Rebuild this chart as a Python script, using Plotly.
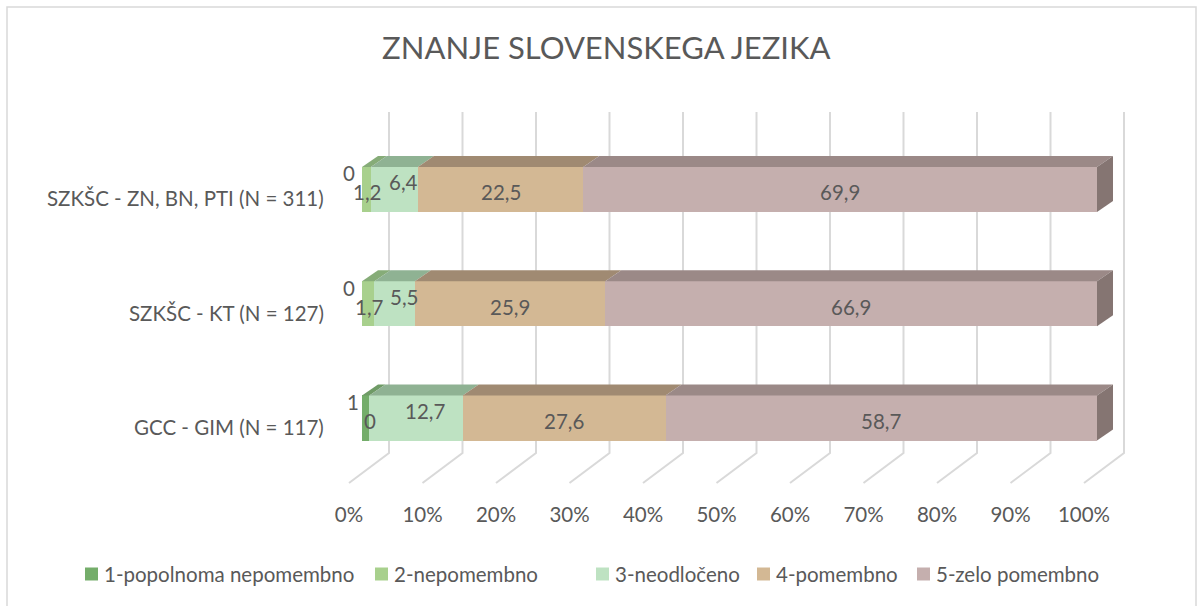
import plotly.graph_objects as go

categories = ["GCC - GIM (N = 117)", "SZKŠC - KT (N = 127)", "SZKŠC - ZN, BN, PTI (N = 311)"]
series_names = ["1-popolnoma nepomembno", "2-nepomembno", "3-neodločeno", "4-pomembno", "5-zelo pomembno"]
s1 = [1, 0, 0]
s2 = [0, 1.7, 1.2]
s3 = [12.7, 5.5, 6.4]
s4 = [27.6, 25.9, 22.5]
s5 = [58.7, 66.9, 69.9]
pct_ticks = [0, 10, 20, 30, 40, 50, 60, 70, 80, 90, 100]
tick_text = ["0%", "10%", "20%", "30%", "40%", "50%", "60%", "70%", "80%", "90%", "100%"]

series = [s1, s2, s3, s4, s5]
front_col = ["#74ad6a", "#a8d08d", "#bee2c2", "#d3b894", "#c5afae"]
top_col = ["#6f9b66", "#86ac78", "#8fb293", "#a08a72", "#9b8987"]
side_col = "#857572"
txt = "#595959"
font = "Lato, Calibri, sans-serif"

# plot area in pixels
W, H = 1203, 606
L, T, PW, PH = 340, 100, 790, 390


def pxx(px):
    return (px - L) / PW


def pxy(py):
    return (T + PH - py) / PH


# pseudo-3D geometry
px_x = 7.35      # px per percent
px_y = 114.3     # px per category step
x_lo = -22 / px_x
x_hi = x_lo + PW / px_x
y_lo = -(T + PH - 418) / px_y
y_hi = y_lo + PH / px_y
half = 0.197
dx, dy = 16 / px_x, 11 / px_y              # bar depth
back_dx, back_dy = 27 / px_x, -35 / px_y   # back wall
front_dx, front_dy = -13 / px_x, -65 / px_y
wall_top = 2 + (189.5 - 112) / px_y

fig = go.Figure()
yc = list(range(len(categories)))

shapes = []
for t in pct_ticks:
    bx = t + back_dx
    fx = t + front_dx
    shapes.append(dict(type="path", xref="x", yref="y", layer="below",
                       path=f"M {bx},{wall_top} L {bx},{back_dy} L {fx},{front_dy}",
                       line=dict(color="#d9d9d9", width=2)))
shapes.append(dict(type="rect", xref="paper", yref="paper",
                   x0=pxx(7), x1=pxx(1196), y0=pxy(640), y1=pxy(7),
                   line=dict(color="#d9d9d9", width=1.5)))

for i, (name, vals) in enumerate(zip(series_names, series)):
    fig.add_trace(go.Bar(y=yc, x=vals, orientation="h", name=name, width=2 * half,
                         marker=dict(color=front_col[i], line=dict(width=0)),
                         showlegend=False))

annotations = []
lab_shift = [(-13, 16), (1, -3), (9, 7), (0, -3), (0, -3)]
for j, c in enumerate(yc):
    base = 0
    for i, vals in enumerate(series):
        v = vals[j]
        a, b = base, base + v
        if v > 0:
            yt = c + half
            fig.add_trace(go.Scatter(x=[a, b, b + dx, a + dx, a], y=[yt, yt, yt + dy, yt + dy, yt],
                                     fill="toself", fillcolor=top_col[i], mode="lines",
                                     line=dict(width=0), showlegend=False, hoverinfo="skip"))
        label = (f"{v:g}").replace(".", ",")
        annotations.append(dict(x=(a + b) / 2, y=c, xref="x", yref="y", text=label, showarrow=False,
                                xshift=lab_shift[i][0], yshift=lab_shift[i][1],
                                font=dict(family=font, size=20.5, color=txt)))
        base = b
    fig.add_trace(go.Scatter(x=[base, base + dx, base + dx, base, base],
                             y=[c - half, c - half + dy, c + half + dy, c + half, c - half],
                             fill="toself", fillcolor=side_col, mode="lines",
                             line=dict(width=0), showlegend=False, hoverinfo="skip"))
    annotations.append(dict(x=0, y=c, xref="paper", yref="y", text=categories[j], showarrow=False,
                            xanchor="right", xshift=-14, yshift=-9,
                            font=dict(family=font, size=20.5, color=txt)))

# legend drawn by hand (Excel-style spacing)
leg_left = [85, 375, 596, 757, 917]
for i, name in enumerate(series_names):
    x0 = leg_left[i]
    shapes.append(dict(type="rect", xref="paper", yref="paper",
                       x0=pxx(x0), x1=pxx(x0 + 13), y0=pxy(580.5), y1=pxy(567.5),
                       fillcolor=front_col[i], line=dict(width=0)))
    annotations.append(dict(x=pxx(x0 + 17), y=pxy(574), xref="paper", yref="paper", text=name,
                            showarrow=False, xanchor="left", yanchor="middle",
                            font=dict(family=font, size=20.5, color=txt)))

fig.update_layout(
    width=W, height=H,
    margin=dict(l=L, r=W - L - PW, t=T, b=H - T - PH, autoexpand=False),
    paper_bgcolor="white", plot_bgcolor="white",
    barmode="stack", showlegend=False,
    title=dict(text="ZNANJE SLOVENSKEGA JEZIKA", x=0.504, xanchor="center", y=1 - 48 / H, yanchor="middle",
               font=dict(family=font, size=31, color=txt)),
    xaxis=dict(range=[x_lo, x_hi], showgrid=False, zeroline=False, showline=False,
               tickvals=[t + front_dx for t in pct_ticks], ticktext=tick_text,
               tickfont=dict(family=font, size=20.5, color=txt), ticklabelstandoff=10),
    yaxis=dict(range=[y_lo, y_hi], showgrid=False, zeroline=False, showline=False,
               showticklabels=False),
    shapes=shapes, annotations=annotations,
)

fig.write_html("out.html", config={"displayModeBar": False},
               post_script="document.body.style.margin='0';")
